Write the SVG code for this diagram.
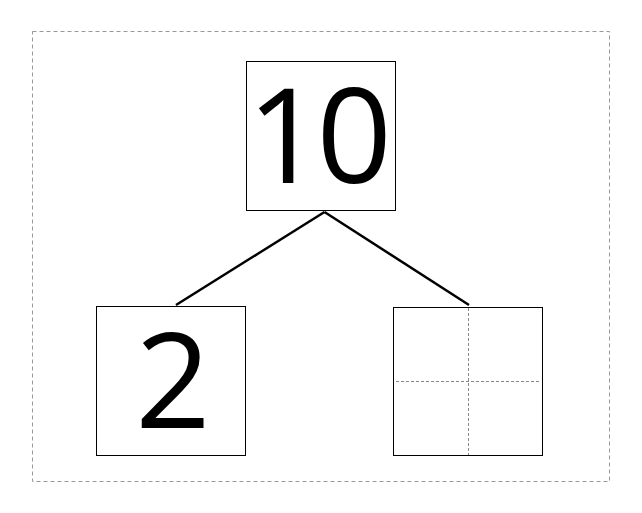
<svg xmlns="http://www.w3.org/2000/svg" width="642" height="513" viewBox="0 0 642 513">
<style>
.box{fill:#fff;stroke:#000;stroke-width:1}
.num{font-family:"Open Sans","Noto Sans",sans-serif;font-size:132px;fill:#000}
.guide{fill:none;stroke:#888;stroke-width:1;stroke-dasharray:3,2}
.frame{fill:none;stroke:#999;stroke-width:1;stroke-dasharray:4,3}
.conn{stroke:#000;stroke-width:2.5;fill:none}
</style>
<rect class="frame" x="32.5" y="31.5" width="577" height="450"/>
<g id="connectors">
<line class="conn" x1="324.5" y1="212" x2="176" y2="305"/>
<line class="conn" x1="324.5" y1="212" x2="469" y2="305"/>
</g>
<g id="node-top">
<rect class="box" x="246.5" y="61.5" width="149" height="149"/>
<text class="num" x="247" y="183" letter-spacing="-6">10</text>
</g>
<g id="node-left">
<rect class="box" x="96.5" y="306.5" width="149" height="149"/>
<text class="num" x="173" y="427.5" text-anchor="middle">2</text>
</g>
<g id="node-right">
<rect class="box" x="393.5" y="307.5" width="149" height="148"/>
<line class="guide" x1="468.5" y1="308" x2="468.5" y2="455"/>
<line class="guide" x1="396" y1="381.5" x2="541" y2="381.5"/>
</g>
</svg>
